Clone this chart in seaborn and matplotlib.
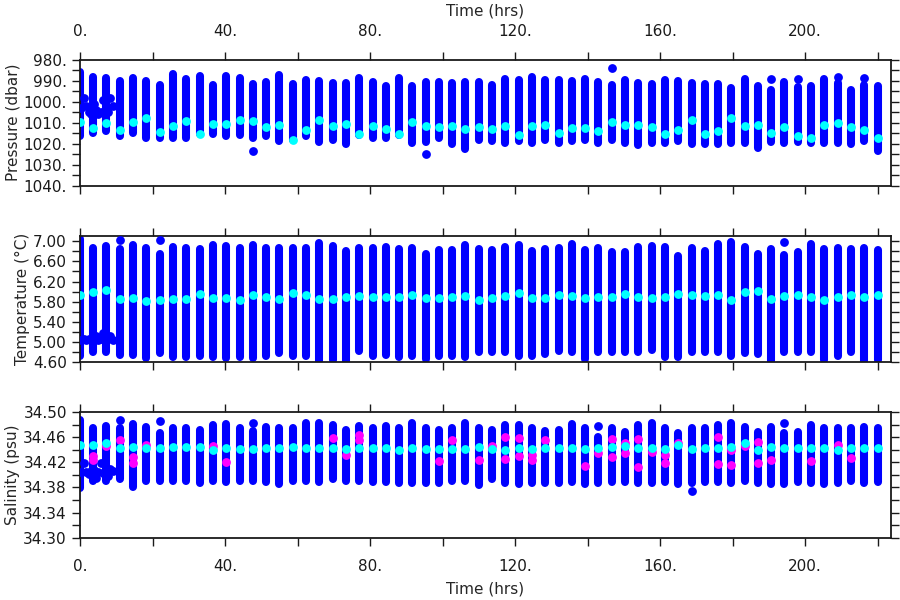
import numpy as np
import pandas as pd
import matplotlib
matplotlib.use("Agg")
import matplotlib.pyplot as plt
import seaborn as sns
from matplotlib.ticker import MultipleLocator, FuncFormatter

# === cast times (hrs) ===
cast_time = [0.0, 3.7, 7.3, 11.0, 14.7, 18.3, 22.0, 25.7, 29.3, 33.0,
             36.7, 40.3, 44.0, 47.7, 51.3, 55.0, 58.7, 62.3, 66.0, 69.7,
             73.3, 77.0, 80.7, 84.3, 88.0, 91.7, 95.3, 99.0, 102.7, 106.3,
             110.0, 113.7, 117.3, 121.0, 124.7, 128.3, 132.0, 135.7, 139.3, 143.0,
             146.7, 150.3, 154.0, 157.7, 161.3, 165.0, 168.7, 172.3, 176.0, 179.7,
             183.3, 187.0, 190.7, 194.3, 198.0, 201.7, 205.3, 209.0, 212.7, 216.3,
             220.0]

# === pressure (dbar): shallowest / deepest / mean per cast ===
pres_top = [986.0, 988.3, 988.5, 989.9, 988.5, 990.1, 992.0, 986.8, 989.1, 987.6,
            992.0, 987.9, 988.5, 991.7, 990.4, 987.2, 991.7, 989.8, 989.9, 991.0,
            990.9, 988.8, 990.4, 992.3, 988.5, 992.3, 990.4, 990.7, 991.0, 990.7,
            990.7, 992.0, 989.1, 989.6, 988.2, 989.5, 989.5, 989.9, 989.3, 990.4,
            992.0, 989.6, 991.2, 991.7, 989.5, 989.9, 991.2, 991.7, 991.7, 993.3,
            989.3, 992.5, 994.4, 990.7, 992.8, 992.5, 989.1, 991.2, 994.2, 992.0,
            992.5]
pres_bot = [1016.3, 1015.0, 1013.9, 1016.6, 1015.0, 1017.1, 1017.1, 1017.1, 1017.4, 1015.5,
            1015.5, 1016.3, 1015.8, 1017.4, 1016.6, 1018.7, 1018.2, 1016.6, 1019.0, 1018.2,
            1020.3, 1015.8, 1017.4, 1017.4, 1015.8, 1019.8, 1019.0, 1017.1, 1020.1, 1022.6,
            1018.2, 1018.7, 1019.8, 1018.7, 1019.8, 1018.2, 1019.8, 1018.7, 1018.2, 1019.8,
            1018.2, 1019.8, 1020.6, 1019.8, 1019.8, 1018.7, 1020.3, 1020.3, 1020.3, 1019.8,
            1019.8, 1022.2, 1019.3, 1019.8, 1019.0, 1019.8, 1019.8, 1019.8, 1020.3, 1018.7,
            1023.4]
pres_mean = [1009.9, 1012.6, 1010.3, 1013.6, 1009.9, 1008.0, 1014.4, 1011.7, 1009.3, 1015.5,
             1010.4, 1010.7, 1008.8, 1009.1, 1012.3, 1011.0, 1018.2, 1013.6, 1008.8, 1011.8,
             1010.4, 1015.3, 1011.4, 1012.8, 1015.3, 1009.6, 1011.8, 1012.3, 1011.4, 1013.0,
             1012.0, 1012.8, 1011.7, 1015.8, 1011.7, 1011.2, 1015.0, 1012.5, 1012.5, 1014.1,
             1009.9, 1011.0, 1011.0, 1012.0, 1015.2, 1013.7, 1008.7, 1015.5, 1014.1, 1007.9,
             1011.7, 1011.0, 1014.7, 1012.3, 1016.3, 1017.1, 1011.2, 1010.1, 1012.3, 1013.6,
             1017.1]
pres_odd_t = [47.7, 95.3, 146.7, 190.7, 198.0, 209.0, 216.3]
pres_odd_v = [1023.6, 1025.0, 983.9, 989.3, 989.3, 988.2, 988.8]

# === temperature (degC) ===
temp_top = [7.05, 6.87, 6.91, 6.84, 6.92, 6.87, 6.75, 6.89, 6.87, 6.84,
            6.92, 6.91, 6.87, 6.92, 6.87, 6.87, 6.87, 6.87, 6.97, 6.91,
            6.80, 6.87, 6.87, 6.89, 6.85, 6.87, 6.75, 6.82, 6.82, 6.92,
            6.85, 6.82, 6.89, 6.92, 6.80, 6.84, 6.87, 6.95, 6.82, 6.87,
            6.79, 6.79, 6.89, 6.91, 6.89, 6.71, 6.87, 6.80, 6.94, 6.99,
            6.89, 6.75, 6.84, 6.72, 6.79, 6.95, 6.85, 6.87, 6.84, 6.87,
            6.82]
temp_bot = [4.71, 4.80, 4.80, 4.73, 4.73, 4.67, 4.77, 4.69, 4.69, 4.71,
            4.69, 4.67, 4.69, 4.67, 4.72, 4.77, 4.71, 4.71, 4.62, 4.64,
            4.62, 4.81, 4.71, 4.73, 4.69, 4.71, 4.65, 4.71, 4.71, 4.69,
            4.80, 4.80, 4.80, 4.71, 4.71, 4.75, 4.82, 4.80, 4.65, 4.79,
            4.79, 4.80, 4.80, 4.84, 4.69, 4.69, 4.80, 4.80, 4.80, 4.71,
            4.77, 4.75, 4.62, 4.80, 4.80, 4.80, 4.63, 4.71, 4.80, 4.62,
            4.64]
temp_mean = [5.93, 6.00, 6.03, 5.85, 5.87, 5.81, 5.83, 5.86, 5.86, 5.95,
             5.87, 5.88, 5.83, 5.93, 5.90, 5.85, 5.97, 5.93, 5.85, 5.85,
             5.89, 5.92, 5.90, 5.90, 5.89, 5.93, 5.87, 5.87, 5.89, 5.92,
             5.84, 5.88, 5.92, 5.97, 5.88, 5.88, 5.94, 5.91, 5.87, 5.89,
             5.89, 5.95, 5.89, 5.88, 5.89, 5.95, 5.94, 5.92, 5.94, 5.84,
             5.99, 6.01, 5.86, 5.92, 5.94, 5.89, 5.84, 5.90, 5.93, 5.89,
             5.93]
temp_odd_t = [11.0, 22.0, 194.3]
temp_odd_v = [7.02, 7.02, 6.99]

# === salinity (psu) ===
sal_top = [34.488, 34.474, 34.477, 34.475, 34.481, 34.476, 34.467, 34.475, 34.475, 34.472,
           34.479, 34.481, 34.474, 34.470, 34.476, 34.474, 34.475, 34.483, 34.483, 34.479,
           34.472, 34.477, 34.475, 34.477, 34.475, 34.483, 34.475, 34.472, 34.474, 34.483,
           34.474, 34.472, 34.480, 34.480, 34.474, 34.470, 34.472, 34.481, 34.474, 34.461,
           34.474, 34.469, 34.480, 34.483, 34.474, 34.467, 34.474, 34.474, 34.480, 34.483,
           34.476, 34.468, 34.476, 34.467, 34.468, 34.480, 34.474, 34.475, 34.474, 34.476,
           34.474]
sal_bot = [34.379, 34.390, 34.390, 34.393, 34.380, 34.390, 34.391, 34.391, 34.390, 34.387,
           34.390, 34.389, 34.390, 34.390, 34.389, 34.386, 34.390, 34.390, 34.389, 34.393,
           34.390, 34.391, 34.389, 34.389, 34.387, 34.387, 34.387, 34.387, 34.390, 34.390,
           34.384, 34.393, 34.387, 34.386, 34.387, 34.387, 34.387, 34.389, 34.385, 34.387,
           34.389, 34.389, 34.387, 34.387, 34.389, 34.386, 34.387, 34.389, 34.389, 34.387,
           34.390, 34.387, 34.386, 34.385, 34.389, 34.387, 34.386, 34.387, 34.390, 34.387,
           34.389]
sal_mean = [34.448, 34.448, 34.451, 34.443, 34.444, 34.442, 34.443, 34.444, 34.444, 34.444,
            34.440, 34.443, 34.441, 34.441, 34.442, 34.442, 34.444, 34.442, 34.442, 34.442,
            34.441, 34.442, 34.442, 34.442, 34.440, 34.442, 34.441, 34.441, 34.441, 34.441,
            34.444, 34.441, 34.440, 34.442, 34.441, 34.442, 34.442, 34.442, 34.441, 34.443,
            34.444, 34.446, 34.442, 34.442, 34.441, 34.447, 34.441, 34.442, 34.443, 34.445,
            34.451, 34.439, 34.444, 34.442, 34.442, 34.442, 34.442, 34.439, 34.442, 34.442,
            34.442]
sal_odd_t = [11.0, 22.0, 47.7, 143.0, 194.3, 168.7]
sal_odd_v = [34.488, 34.485, 34.482, 34.477, 34.482, 34.374]
sal_flag_t = [3.7, 3.7, 7.3, 11.0, 14.7, 14.7, 18.3, 36.7, 40.3, 69.7,
              73.3, 77.0, 77.0, 99.0, 102.7, 110.0, 113.7, 117.3, 117.3, 121.0,
              121.0, 124.7, 124.7, 128.3, 139.3, 143.0, 146.7, 146.7, 150.3, 150.3,
              154.0, 154.0, 157.7, 161.3, 161.3, 165.0, 176.0, 176.0, 179.7, 179.7,
              183.3, 187.0, 187.0, 190.7, 201.7, 209.0, 212.7]
sal_flag_v = [34.430, 34.424, 34.446, 34.455, 34.428, 34.419, 34.448, 34.446, 34.420, 34.458,
              34.431, 34.463, 34.455, 34.422, 34.456, 34.424, 34.446, 34.460, 34.425, 34.458,
              34.430, 34.432, 34.424, 34.455, 34.414, 34.435, 34.457, 34.428, 34.451, 34.435,
              34.457, 34.412, 34.436, 34.431, 34.419, 34.451, 34.460, 34.417, 34.439, 34.416,
              34.446, 34.452, 34.419, 34.424, 34.422, 34.448, 34.427]

# === first ~9 hrs: continuous record before casts ===
early_t = [0.4, 1.2, 1.6, 2.4, 3.0, 3.8, 4.4, 5.0, 5.8, 6.4, 7.2, 7.8, 8.4, 9.0]
early_pres = [1003.0, 998.0, 1002.0, 1005.0, 1006.0, 1001.0, 1004.0, 1006.0, 1005.0, 999.0,
              1003.0, 1005.0, 998.0, 1002.0]
early_temp = [5.04, 5.05, 5.03, 5.06, 5.04, 5.05, 5.12, 5.03, 5.05, 5.18, 5.04, 5.06, 5.12, 5.04]
early_sal = [34.405, 34.419, 34.404, 34.402, 34.406, 34.408, 34.395, 34.405, 34.419, 34.403,
             34.406, 34.398, 34.410, 34.406]

# === Figure ===
sns.set_style("ticks")
plt.rcParams['font.family'] = ['DejaVu Sans']
plt.rcParams['font.size'] = 11

fig = plt.figure(figsize=(9, 6), dpi=100)
left, width, height = 0.0889, 0.9011, 0.2095
ax_p = fig.add_axes([left, 0.6908, width, height])
ax_t = fig.add_axes([left, 0.3967, width, height])
ax_s = fig.add_axes([left, 0.1038, width, height])

dot = 40   # marker area (pt^2)
lw = 5.8   # column width (pt) ~ dot diameter


def draw_panel(ax, tops, bots, odd_t, odd_v, e_vals):
    casts = pd.DataFrame({"time": cast_time * 2,
                          "value": tops + bots,
                          "cast": list(range(len(cast_time))) * 2})
    sns.lineplot(data=casts, x="time", y="value", units="cast", estimator=None,
                 sort=False, color="#0000ff", linewidth=lw, solid_capstyle="round",
                 legend=False, ax=ax, zorder=2)
    sns.scatterplot(x=odd_t, y=odd_v, color="#0000ff", s=dot, linewidth=0, ax=ax, zorder=3)
    sns.scatterplot(x=early_t, y=e_vals, color="#0000ff", s=dot, linewidth=0, ax=ax, zorder=3)


draw_panel(ax_p, pres_top, pres_bot, pres_odd_t, pres_odd_v, early_pres)
draw_panel(ax_t, temp_top, temp_bot, temp_odd_t, temp_odd_v, early_temp)
draw_panel(ax_s, sal_top, sal_bot, sal_odd_t, sal_odd_v, early_sal)
sns.scatterplot(x=sal_flag_t, y=sal_flag_v, color="#ff00ff", s=dot, linewidth=0, ax=ax_s, zorder=4)
for ax, means in [(ax_p, pres_mean), (ax_t, temp_mean), (ax_s, sal_mean)]:
    sns.scatterplot(x=cast_time, y=means, color="#00ffff", s=dot, linewidth=0, ax=ax, zorder=5)

ax_p.set_ylim(1040, 980)
ax_t.set_ylim(4.6, 7.1)
ax_s.set_ylim(34.30, 34.50)

fmt_x = FuncFormatter(lambda v, p: f"{v:.0f}." if round(v) % 40 == 0 else "")
fmt_p = FuncFormatter(lambda v, p: f"{v:.0f}." if round(v) % 10 == 0 else "")
fmt_t = FuncFormatter(lambda v, p: f"{v:.2f}" if round(v * 10) % 4 == 2 else "")
fmt_s = FuncFormatter(lambda v, p: f"{v:.2f}" if round(v * 100) % 4 == 2 else "")

for ax, step, fmt in [(ax_p, 5, fmt_p), (ax_t, 0.2, fmt_t), (ax_s, 0.02, fmt_s)]:
    ax.set_xlim(0, 223.7)
    ax.xaxis.set_major_locator(MultipleLocator(20))
    ax.yaxis.set_major_locator(MultipleLocator(step))
    ax.yaxis.set_major_formatter(fmt)
    ax.xaxis.set_major_formatter(fmt_x)
    ax.tick_params(direction="out", length=6, width=1.0, top=True, right=True,
                   labeltop=False, labelbottom=False, labelsize=11, colors="#1a1a1a")
    ax.tick_params(axis="x", pad=9)
    for sp in ax.spines.values():
        sp.set_visible(True)
        sp.set_linewidth(1.3)
        sp.set_color("#1a1a1a")
    ax.set_xlabel("")

ax_p.tick_params(labeltop=True)
ax_p.xaxis.set_label_position("top")
ax_p.set_xlabel("Time (hrs)", fontsize=11, labelpad=6)
ax_s.tick_params(labelbottom=True)
ax_s.set_xlabel("Time (hrs)", fontsize=11, labelpad=6)

ax_p.set_ylabel("Pressure (dbar)", fontsize=11, labelpad=2)
ax_t.set_ylabel("Temperature (\u00b0C)", fontsize=11, labelpad=2)
ax_s.set_ylabel("Salinity (psu)", fontsize=11, labelpad=2)

fig.savefig("out.png", dpi=100)
plt.close(fig)
